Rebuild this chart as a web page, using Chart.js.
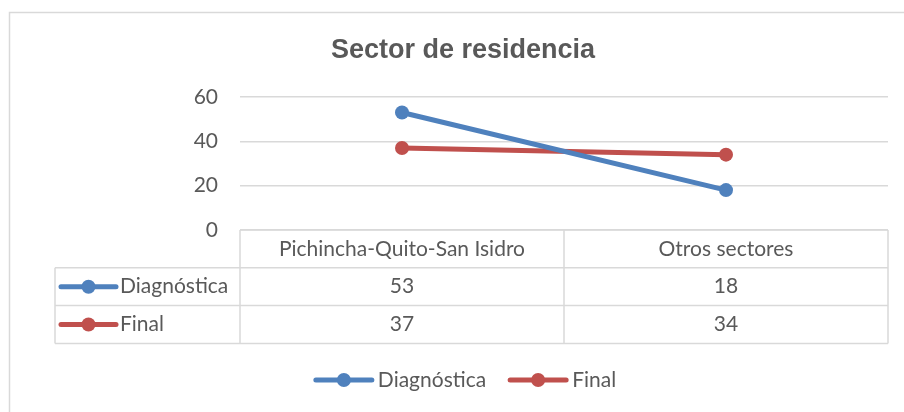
<!DOCTYPE html>
<html>
<head>
<meta charset="utf-8">
<script src="https://cdn.jsdelivr.net/npm/chart.js@4/dist/chart.umd.min.js"></script>
<style>
  html, body { margin: 0; padding: 0; background: #ffffff; }
  #wrap { width: 904px; height: 412px; position: relative; }
</style>
</head>
<body>
<div id="wrap"><canvas id="c" width="904" height="412"></canvas></div>
<script>
const chartTitle = 'Sector de residencia';
const categories = ['Pichincha-Quito-San Isidro', 'Otros sectores'];
const seriesNames = ['Diagnóstica', 'Final'];
const diagnostica = [53, 18];
const finalValues = [37, 34];
const yMin = 0, yMax = 60, yStep = 20;

const COLORS = ['#4f81bd', '#c0504d'];
const TEXT = '#595959';
const GRID = '#d9d9d9';
const FONT = 'Lato, "Open Sans", sans-serif';

function drawMarker(ctx, x0, x1, y, color) {
  ctx.save();
  ctx.strokeStyle = color;
  ctx.lineWidth = 5;
  ctx.lineCap = 'round';
  ctx.beginPath(); ctx.moveTo(x0, y); ctx.lineTo(x1, y); ctx.stroke();
  ctx.fillStyle = color;
  ctx.beginPath(); ctx.arc((x0 + x1) / 2, y, 7, 0, Math.PI * 2); ctx.fill();
  ctx.restore();
}

const decorPlugin = {
  id: 'decor',
  beforeDraw(chart) {
    const ctx = chart.ctx;
    ctx.save();
    ctx.fillStyle = '#fff';
    ctx.fillRect(0, 0, chart.width, chart.height);
    ctx.strokeStyle = GRID;
    ctx.lineWidth = 1.5;
    ctx.strokeRect(9.5, 12.5, chart.width + 20, chart.height + 20);
    // title
    ctx.fillStyle = TEXT;
    ctx.font = 'bold 27px "Liberation Sans", Arial, sans-serif';
    ctx.textAlign = 'center';
    ctx.textBaseline = 'alphabetic';
    ctx.fillText(chartTitle, 463, 58);
    ctx.restore();
  },
  afterDraw(chart) {
    const ctx = chart.ctx;
    const area = chart.chartArea;
    const xs = chart.scales.x;
    const centers = categories.map((_, i) => xs.getPixelForValue(i));
    const bounds = [area.left];
    for (let i = 0; i < centers.length - 1; i++) bounds.push((centers[i] + centers[i + 1]) / 2);
    bounds.push(area.right);
    const top = area.bottom;
    const rowH = 37.8;
    const rows = [top, top + rowH, top + 2 * rowH, top + 3 * rowH];
    const leftX = 55;

    ctx.save();
    ctx.strokeStyle = GRID;
    ctx.lineWidth = 1.5;
    ctx.beginPath();
    // header row top line
    ctx.moveTo(area.left, rows[0]); ctx.lineTo(area.right, rows[0]);
    for (let r = 1; r < rows.length; r++) {
      ctx.moveTo(leftX, rows[r]); ctx.lineTo(area.right, rows[r]);
    }
    bounds.forEach(b => { ctx.moveTo(b, rows[0]); ctx.lineTo(b, rows[3]); });
    ctx.moveTo(leftX, rows[1]); ctx.lineTo(leftX, rows[3]);
    ctx.stroke();

    ctx.fillStyle = TEXT;
    ctx.font = '21px ' + FONT;
    ctx.textBaseline = 'middle';
    ctx.textAlign = 'center';
    categories.forEach((c, i) => ctx.fillText(c, centers[i], (rows[0] + rows[1]) / 2));
    chart.data.datasets.forEach((ds, di) => {
      const yMid = (rows[di + 1] + rows[di + 2]) / 2;
      ds.data.forEach((v, i) => {
        ctx.textAlign = 'center';
        ctx.fillText(String(v), centers[i], yMid);
      });
      drawMarker(ctx, 61, 116, yMid, ds.borderColor);
      ctx.fillStyle = TEXT;
      ctx.textAlign = 'left';
      ctx.fillText(ds.label, 120, yMid);
    });

    // legend
    const ly = 380;
    const markW = 56, gapA = 6, gapB = 24;
    const widths = chart.data.datasets.map(ds => ctx.measureText(ds.label).width);
    let total = 0;
    widths.forEach((w, i) => { total += markW + gapA + w + (i < widths.length - 1 ? gapB : 0); });
    let x = 466 - total / 2;
    chart.data.datasets.forEach((ds, i) => {
      drawMarker(ctx, x, x + markW, ly, ds.borderColor);
      ctx.fillStyle = TEXT;
      ctx.textAlign = 'left';
      ctx.fillText(ds.label, x + markW + gapA, ly);
      x += markW + gapA + widths[i] + gapB;
    });
    ctx.restore();
  }
};

new Chart(document.getElementById('c'), {
  type: 'line',
  data: {
    labels: categories,
    datasets: [
      { label: seriesNames[0], data: diagnostica, borderColor: COLORS[0], backgroundColor: COLORS[0],
        pointBackgroundColor: COLORS[0], pointBorderColor: COLORS[0] },
      { label: seriesNames[1], data: finalValues, borderColor: COLORS[1], backgroundColor: COLORS[1],
        pointBackgroundColor: COLORS[1], pointBorderColor: COLORS[1] }
    ]
  },
  options: {
    responsive: false,
    animation: false,
    devicePixelRatio: 1,
    layout: { padding: { left: 0, right: 16, top: 97, bottom: 182 } },
    elements: {
      line: { borderWidth: 5, tension: 0, borderCapStyle: 'round' },
      point: { radius: 7, hoverRadius: 7, borderWidth: 0 }
    },
    plugins: { legend: { display: false }, title: { display: false }, tooltip: { enabled: false } },
    scales: {
      x: { type: 'category', offset: true, display: false },
      y: {
        min: yMin, max: yMax,
        afterFit(scale) { scale.width = 240; },
        border: { display: false },
        grid: { color: GRID, lineWidth: 1.5, drawTicks: false },
        ticks: { stepSize: yStep, padding: 22, color: TEXT, font: { family: FONT, size: 21 } }
      }
    }
  },
  plugins: [decorPlugin]
});
</script>
</body>
</html>
